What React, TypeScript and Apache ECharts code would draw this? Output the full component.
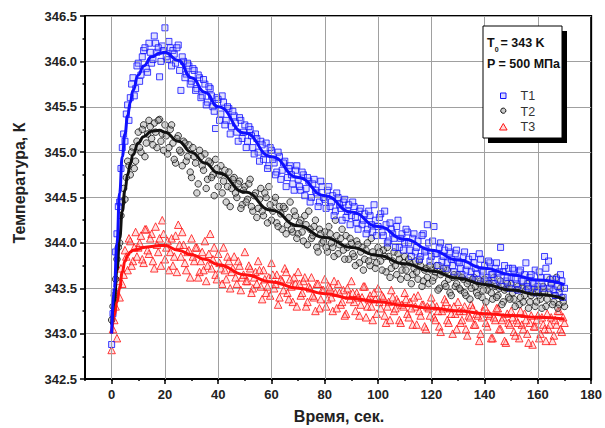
import React, { useEffect, useRef } from "react";
import * as echarts from "echarts";

// sampling step of the measured series, seconds (second array of each series is offset by half a step)
const timeStep = 1;

const T1 = [
  342.88, 343.45, 344.1, 344.45, 345.05, 345.12, 345.52, 345.6, 345.82, 345.7,
  345.98, 345.85, 346.12, 345.92, 346.2, 345.98, 346.28, 346.1, 345.83, 346.17,
  346.37, 346.02, 346.15, 346.12, 345.98, 346.18, 345.68, 346.0, 345.86, 345.95,
  345.78, 345.9, 345.7, 345.82, 345.62, 345.75, 345.55, 345.7, 345.5, 345.26,
  345.58, 345.42, 345.55, 345.35, 345.48, 345.28, 345.4, 345.22, 345.38, 345.15,
  345.3, 345.12, 345.25, 345.05, 345.2, 345.0, 345.12, 344.92, 345.1, 344.85,
  345.02, 344.88, 344.78, 344.95, 344.8, 344.9, 344.72, 344.85, 344.65, 344.8,
  344.7, 344.58, 344.75, 344.6, 344.68, 344.5, 344.7, 344.55, 344.45, 344.62,
  344.48, 344.58, 344.4, 344.52, 344.35, 344.5, 344.38, 344.45, 344.28, 344.42,
  344.3, 344.4, 344.22, 344.35, 344.2, 344.32, 344.15, 344.3, 344.12, 344.25,
  344.18, 344.32, 344.08, 344.2, 344.02, 344.15, 344.05, 344.18, 343.95, 344.1,
  344.0, 344.12, 343.92, 344.05, 343.9, 344.02, 343.85, 344.1, 343.92, 344.0,
  343.85, 344.18, 343.88, 343.95, 343.8, 343.92, 343.78, 343.9, 343.75, 343.88,
  343.8, 343.72, 343.85, 343.7, 343.82, 343.68, 343.78, 343.66, 343.88, 343.7,
  343.75, 343.62, 343.78, 343.65, 343.72, 343.6, 343.95, 343.68, 343.58, 343.72,
  343.62, 343.7, 343.55, 343.68, 343.58, 343.65, 343.52, 343.62, 343.55, 343.7,
  343.52, 343.62, 343.5, 343.72, 343.8, 343.55, 343.48, 343.6, 343.45, 343.58,
  343.5,
];
const T1half = [
  343.22, 343.9, 344.4, 344.82, 345.2, 345.42, 345.35, 345.75, 345.62, 345.95,
  345.78, 346.05, 346.15, 345.88, 346.1, 346.02, 346.2, 346.15, 346.0, 346.12,
  346.05, 346.22, 345.95, 346.08, 346.15, 345.9, 346.05, 345.82, 345.98, 345.75,
  345.92, 345.68, 345.85, 345.6, 345.8, 345.52, 345.72, 345.62, 345.45, 345.6,
  345.35, 345.62, 345.3, 345.5, 345.2, 345.45, 345.32, 345.12, 345.35, 345.22,
  345.05, 345.28, 345.18, 344.98, 345.15, 344.9, 345.08, 344.98, 344.82, 345.05,
  344.92, 344.75, 345.0, 344.7, 344.88, 344.62, 344.82, 344.75, 344.58, 344.85,
  344.62, 344.78, 344.52, 344.72, 344.45, 344.65, 344.58, 344.4, 344.68, 344.5,
  344.38, 344.62, 344.45, 344.3, 344.55, 344.42, 344.25, 344.48, 344.35, 344.2,
  344.45, 344.28, 344.15, 344.38, 344.25, 344.1, 344.35, 344.2, 344.42, 344.08,
  344.28, 344.12, 344.35, 344.0, 344.22, 344.1, 343.95, 344.25, 344.05, 343.92,
  344.15, 344.0, 343.85, 344.1, 343.95, 343.82, 344.08, 343.9, 344.2, 343.8,
  344.02, 343.88, 343.75, 344.0, 343.85, 343.72, 343.95, 343.82, 343.68, 343.92,
  343.78, 343.65, 343.9, 343.75, 343.62, 343.85, 343.72, 343.6, 343.82, 343.68,
  343.58, 343.8, 343.65, 343.55, 343.78, 343.68, 343.52, 343.75, 343.62, 343.5,
  343.72, 343.6, 343.48, 343.7, 343.58, 343.78, 343.5, 343.65, 343.55, 343.45,
  343.68, 343.55, 343.85, 343.62, 343.5, 343.6, 343.42, 343.52, 343.65, 343.4,
];

const T2 = [
  343.15, 343.42, 343.82, 344.0, 344.45, 344.48, 344.9, 344.75, 345.05, 344.9,
  345.22, 345.0, 345.3, 345.1, 345.35, 345.15, 345.32, 345.05, 345.36, 345.2,
  345.3, 344.98, 345.25, 345.1, 344.88, 345.18, 345.0, 345.12, 344.9, 345.08,
  344.72, 344.95, 344.55, 345.02, 344.85, 344.98, 344.7, 344.88, 344.75, 344.92,
  344.62, 344.85, 344.68, 344.45, 344.78, 344.6, 344.72, 344.5, 344.68, 344.42,
  344.62, 344.48, 344.7, 344.35, 344.55, 344.38, 344.6, 344.3, 344.5, 344.62,
  344.25, 344.45, 344.22, 344.4, 344.15, 344.38, 344.2, 344.45, 344.12, 344.3,
  344.1, 344.25, 344.02, 344.2, 344.35, 344.05, 344.18, 343.95, 344.15, 344.0,
  344.12, 343.9, 344.1, 343.95, 344.25, 343.88, 344.05, 343.92, 344.08, 343.82,
  344.0, 343.85, 344.02, 343.78, 343.95, 343.82, 344.0, 343.75, 343.9, 343.72,
  343.95, 343.8, 343.92, 343.68, 343.85, 343.72, 343.9, 343.65, 343.82, 343.7,
  343.85, 343.62, 343.78, 343.65, 343.8, 343.6, 343.75, 343.58, 343.72, 343.55,
  343.7, 343.62, 343.75, 343.5, 343.68, 343.55, 343.7, 343.45, 343.62, 343.52,
  343.65, 343.48, 343.6, 343.42, 343.58, 343.5, 343.62, 343.45, 343.55, 343.4,
  343.6, 343.48, 343.55, 343.38, 343.52, 343.42, 343.58, 343.35, 343.5, 343.4,
  343.55, 343.38, 343.48, 343.32, 343.5, 343.42, 343.55, 343.35, 343.45, 343.3,
  343.48, 343.38, 343.52, 343.3, 343.45, 343.55, 343.35, 343.62, 343.32, 343.4,
  343.3,
];
const T2half = [
  343.3, 343.6, 343.95, 344.3, 344.6, 344.72, 344.85, 345.0, 344.82, 345.12,
  345.05, 345.25, 344.95, 345.2, 345.28, 345.08, 345.22, 345.35, 345.12, 345.02,
  345.18, 345.05, 345.3, 344.92, 345.15, 345.02, 344.85, 345.1, 344.95, 344.78,
  345.05, 344.88, 344.65, 344.95, 344.8, 344.6, 344.9, 344.72, 344.52, 344.82,
  344.75, 344.55, 344.8, 344.62, 344.4, 344.7, 344.55, 344.65, 344.38, 344.58,
  344.45, 344.65, 344.4, 344.52, 344.28, 344.48, 344.35, 344.55, 344.22, 344.42,
  344.35, 344.5, 344.18, 344.32, 344.4, 344.1, 344.28, 344.15, 344.35, 344.05,
  344.22, 344.12, 344.3, 343.98, 344.15, 344.08, 344.25, 343.9, 344.1, 344.02,
  343.95, 344.18, 344.0, 343.85, 344.08, 343.98, 344.15, 343.82, 343.95, 344.05,
  343.88, 343.75, 343.98, 343.9, 343.7, 343.92, 343.8, 344.05, 343.85, 343.78,
  343.9, 343.7, 343.85, 343.95, 343.62, 343.8, 343.75, 343.88, 343.6, 343.78,
  343.7, 343.82, 343.55, 343.72, 343.68, 343.8, 343.52, 343.7, 343.62, 343.75,
  343.58, 343.68, 343.48, 343.65, 343.72, 343.52, 343.6, 343.42, 343.65, 343.55,
  343.5, 343.62, 343.45, 343.55, 343.38, 343.6, 343.52, 343.42, 343.58, 343.48,
  343.35, 343.55, 343.45, 343.62, 343.4, 343.5, 343.32, 343.48, 343.55, 343.38,
  343.45, 343.3, 343.52, 343.4, 343.35, 343.48, 343.28, 343.42, 343.5, 343.35,
  343.42, 343.28, 343.45, 343.38, 343.6, 343.32, 343.42, 343.28, 343.5, 343.35,
];

const T3 = [
  342.82, 343.15, 342.95, 343.4, 343.55, 343.92, 343.7, 344.02, 343.8, 344.12,
  343.95, 344.08, 343.78, 344.15, 343.88, 344.1, 343.72, 343.98, 344.05, 344.25,
  343.82, 344.02, 343.9, 343.75, 344.08, 344.2, 343.85, 343.98, 343.7, 343.92,
  344.05, 343.8, 343.95, 343.68, 343.9, 344.02, 343.75, 344.1, 343.82, 343.65,
  343.88, 343.72, 343.95, 343.6, 343.8, 343.68, 343.85, 343.55, 343.75, 343.62,
  343.9, 343.58, 343.72, 343.5, 343.68, 343.8, 343.52, 343.7, 343.45, 343.62,
  343.78, 343.5, 343.65, 343.4, 343.58, 343.72, 343.45, 343.6, 343.35, 343.55,
  343.68, 343.42, 343.58, 343.3, 343.52, 343.62, 343.4, 343.55, 343.28, 343.48,
  343.6, 343.38, 343.5, 343.25, 343.45, 343.55, 343.32, 343.48, 343.22, 343.42,
  343.58, 343.35, 343.45, 343.2, 343.4, 343.52, 343.3, 343.42, 343.15, 343.38,
  343.5, 343.28, 343.4, 343.12, 343.35, 343.48, 343.25, 343.38, 343.15, 343.32,
  343.45, 343.22, 343.35, 343.1, 343.3, 343.42, 343.2, 343.32, 343.05, 343.28,
  343.4, 343.18, 343.3, 343.08, 343.25, 343.38, 343.15, 343.28, 343.0, 343.22,
  343.35, 343.12, 343.25, 343.05, 343.2, 343.32, 343.1, 343.22, 342.92, 343.18,
  343.3, 343.08, 343.2, 342.95, 343.15, 343.28, 343.05, 343.18, 342.9, 343.12,
  343.25, 343.02, 343.15, 342.95, 343.1, 343.22, 343.0, 343.12, 342.88, 343.08,
  343.2, 343.0, 343.1, 342.92, 343.05, 343.18, 342.98, 343.1, 343.25, 343.02,
  343.12,
];
const T3half = [
  343.05, 343.3, 343.58, 343.72, 343.65, 343.85, 344.05, 343.75, 343.95, 343.85,
  344.0, 343.82, 344.15, 343.92, 344.05, 343.8, 344.18, 343.9, 343.75, 344.1,
  343.95, 343.7, 344.05, 343.85, 343.68, 343.98, 344.12, 343.78, 343.9, 343.62,
  343.85, 343.95, 343.62, 343.8, 343.7, 343.58, 343.88, 343.72, 343.95, 343.6,
  343.78, 343.55, 343.7, 343.85, 343.5, 343.72, 343.62, 343.8, 343.48, 343.65,
  343.58, 343.75, 343.45, 343.62, 343.55, 343.7, 343.38, 343.6, 343.52, 343.42,
  343.65, 343.55, 343.32, 343.6, 343.48, 343.68, 343.38, 343.52, 343.62, 343.3,
  343.55, 343.45, 343.62, 343.35, 343.5, 343.42, 343.25, 343.55, 343.38, 343.48,
  343.3, 343.52, 343.4, 343.58, 343.28, 343.45, 343.35, 343.2, 343.5, 343.38,
  343.45, 343.25, 343.4, 343.32, 343.52, 343.18, 343.38, 343.3, 343.45, 343.22,
  343.35, 343.42, 343.2, 343.3, 343.15, 343.4, 343.28, 343.35, 343.12, 343.3,
  343.38, 343.18, 343.28, 343.4, 343.1, 343.25, 343.32, 343.08, 343.3, 343.2,
  343.32, 343.15, 343.25, 343.02, 343.28, 343.35, 343.12, 343.22, 343.3, 343.05,
  343.25, 343.15, 343.3, 342.98, 343.18, 343.28, 343.1, 343.2, 343.0, 343.25,
  343.12, 343.22, 342.95, 343.18, 343.28, 343.05, 343.15, 342.92, 343.22, 343.1,
  343.18, 342.98, 343.12, 343.25, 343.05, 343.15, 342.9, 343.2, 343.08, 343.15,
  342.95, 343.18, 343.05, 343.22, 343.1, 342.92, 343.15, 343.25, 343.05, 343.18,
];

// fitted curves
const fitTime = [0, 1, 2, 3, 4, 5, 6, 7, 8, 10, 12, 15, 18, 20, 25, 30, 35, 40, 50, 60, 70, 80, 90, 100, 110, 120, 130, 140, 150, 160, 170];
const fitT1 = [343.0, 343.5, 344.0, 344.55, 344.95, 345.2, 345.4, 345.55, 345.68, 345.85, 345.95, 346.05, 346.09, 346.1, 346.01, 345.82, 345.66, 345.5, 345.21, 344.95, 344.72, 344.52, 344.34, 344.18, 344.04, 343.92, 343.81, 343.72, 343.65, 343.59, 343.54];
const fitT2 = [343.1, 343.35, 343.7, 344.05, 344.35, 344.58, 344.75, 344.87, 344.97, 345.1, 345.17, 345.23, 345.24, 345.22, 345.12, 345.0, 344.88, 344.77, 344.56, 344.36, 344.19, 344.06, 343.95, 343.86, 343.77, 343.69, 343.61, 343.54, 343.48, 343.43, 343.38];
const fitT3 = [343.0, 343.2, 343.35, 343.5, 343.68, 343.8, 343.86, 343.9, 343.92, 343.93, 343.95, 343.96, 343.97, 343.97, 343.92, 343.87, 343.82, 343.76, 343.65, 343.57, 343.5, 343.44, 343.39, 343.35, 343.31, 343.28, 343.25, 343.22, 343.2, 343.18, 343.16];

const xLabelValues = [0, 20, 40, 60, 80, 100, 120, 140, 160, 180];
const xGridValues = [0, 20, 40, 60, 80, 100, 120, 140, 160];
const seriesNames = ["T1", "T2", "T3"];

const FONT = "'Liberation Sans', Arial, sans-serif";

export default function App() {
  const ref = useRef<HTMLDivElement>(null);
  useEffect(() => {
    const chart = echarts.init(ref.current!, null, { renderer: "svg" });
    const pts = (whole: number[], half: number[]) =>
      whole
        .map((v, i) => [i * timeStep, v])
        .concat(half.map((v, i) => [i * timeStep + timeStep / 2, v]));
    const fit = (arr: number[]) => arr.map((v, i) => [fitTime[i], v]);

    const blue = "#1010ff";
    const black = "#111111";
    const red = "#ff1010";
    const blueFill = "rgba(150,150,255,0.35)";
    const grayFill = "rgba(150,150,150,0.5)";
    const redFill = "rgba(255,170,170,0.45)";

    chart.setOption({
      animation: false,
      grid: {
        left: 85,
        right: 11,
        top: 16,
        bottom: 49,
        show: true,
        borderColor: "#000",
        borderWidth: 2,
        backgroundColor: "transparent",
      },
      xAxis: [
        {
          type: "value",
          min: -10,
          max: 180,
          interval: 10,
          axisLine: { onZero: false, lineStyle: { color: "#000", width: 2 } },
          axisTick: {
            show: true,
            customValues: xLabelValues,
            length: 5,
            lineStyle: { color: "#000", width: 1.5 },
          },
          axisLabel: {
            customValues: xLabelValues,
            formatter: (v: number) => (v >= 0 && v % 20 === 0 ? String(v) : ""),
            fontWeight: "bold",
            fontSize: 13,
            fontFamily: FONT,
            color: "#222",
            margin: 9,
          },
          splitLine: { show: false },
        },
        {
          type: "value",
          min: -10,
          max: 180,
          interval: 10,
          position: "bottom",
          axisLine: { show: false, onZero: false },
          axisTick: { show: true, length: 2, lineStyle: { color: "#000", width: 1.5 } },
          axisLabel: { show: false },
          splitLine: { show: false },
        },
      ],
      yAxis: {
        type: "value",
        min: 342.5,
        max: 346.5,
        interval: 0.5,
        axisLine: { show: true, onZero: false, lineStyle: { color: "#000", width: 2 } },
        axisTick: { show: true, length: 5, lineStyle: { color: "#000", width: 1.5 } },
        minorTick: { show: true, splitNumber: 2, length: 2.5, lineStyle: { color: "#000", width: 1.5 } },
        axisLabel: {
          formatter: (v: number) => v.toFixed(1),
          fontWeight: "bold",
          fontSize: 13,
          fontFamily: FONT,
          color: "#222",
          margin: 8,
        },
        splitLine: { show: true, lineStyle: { color: "#a0a0a0", width: 1 } },
      },
      graphic: [
        {
          type: "text",
          x: 339,
          y: 416,
          style: {
            text: "Время, сек.",
            fontSize: 16,
            fontWeight: "bold",
            fontFamily: FONT,
            fill: "#222",
            align: "center",
            verticalAlign: "middle",
          },
        },
        {
          type: "text",
          x: 19,
          y: 183,
          rotation: Math.PI / 2,
          style: {
            text: "Температура, К",
            fontSize: 16,
            fontWeight: "bold",
            fontFamily: FONT,
            fill: "#222",
            align: "center",
            verticalAlign: "middle",
          },
        },
        {
          type: "rect",
          shape: { x: 488, y: 31, width: 79, height: 112 },
          style: { fill: "#000" },
          z: 100,
        },
        {
          type: "rect",
          shape: { x: 483, y: 26, width: 79, height: 112 },
          style: { fill: "#fff", stroke: "#000", lineWidth: 1 },
          z: 101,
        },
        {
          type: "text",
          x: 487,
          y: 43,
          z: 102,
          style: { text: "T", fontSize: 12.5, fontWeight: "bold", fontFamily: FONT, fill: "#111", align: "left", verticalAlign: "middle" },
        },
        {
          type: "text",
          x: 494.8,
          y: 49.5,
          z: 102,
          style: { text: "0", fontSize: 7, fontWeight: "bold", fontFamily: FONT, fill: "#111", align: "left", verticalAlign: "middle" },
        },
        {
          type: "text",
          x: 500.5,
          y: 43,
          z: 102,
          style: { text: "= 343 K", fontSize: 12.5, fontWeight: "bold", fontFamily: FONT, fill: "#111", align: "left", verticalAlign: "middle" },
        },
        {
          type: "text",
          x: 487,
          y: 63.5,
          z: 102,
          style: { text: "P = 500 МПа", fontSize: 12.5, fontWeight: "bold", fontFamily: FONT, fill: "#111", align: "left", verticalAlign: "middle" },
        },
        {
          type: "rect",
          shape: { x: 500.5, y: 93, width: 5.5, height: 5.5 },
          z: 102,
          style: { fill: blueFill, stroke: blue, lineWidth: 1 },
        },
        {
          type: "circle",
          shape: { cx: 503.3, cy: 110.7, r: 2.6 },
          z: 102,
          style: { fill: grayFill, stroke: black, lineWidth: 1 },
        },
        {
          type: "polygon",
          shape: { points: [[503.3, 123.5], [499.5, 130], [507.1, 130]] },
          z: 102,
          style: { fill: redFill, stroke: red, lineWidth: 1 },
        },
        ...seriesNames.map((n, i) => ({
          type: "text",
          x: 520.5,
          y: 96 + i * 15.6,
          z: 102,
          style: { text: n, fontSize: 12.5, fontFamily: FONT, fill: "#333", align: "left", verticalAlign: "middle" },
        })),
      ],
      series: [
        {
          name: "grid-x",
          type: "line",
          data: [],
          z: 1,
          silent: true,
          markLine: {
            silent: true,
            symbol: ["none", "none"],
            label: { show: false },
            lineStyle: { color: "#a0a0a0", width: 1, type: "solid" },
            emphasis: { disabled: true },
            data: xGridValues.map((v) => ({ xAxis: v })),
          },
        },
        {
          name: "T3",
          type: "scatter",
          data: pts(T3, T3half),
          symbol: "triangle",
          symbolSize: 7.5,
          z: 3,
          itemStyle: { color: redFill, borderColor: red, borderWidth: 1 },
        },
        {
          name: "T2",
          type: "scatter",
          data: pts(T2, T2half),
          symbol: "circle",
          symbolSize: 6.5,
          z: 3,
          itemStyle: { color: grayFill, borderColor: black, borderWidth: 1 },
        },
        {
          name: "T1",
          type: "scatter",
          data: pts(T1, T1half),
          symbol: "rect",
          symbolSize: 6,
          z: 3,
          itemStyle: { color: blueFill, borderColor: blue, borderWidth: 1 },
        },
        {
          name: "fit3",
          type: "line",
          data: fit(fitT3),
          showSymbol: false,
          smooth: true,
          smoothMonotone: "x",
          z: 10,
          lineStyle: { color: red, width: 3 },
        },
        {
          name: "fit2",
          type: "line",
          data: fit(fitT2),
          showSymbol: false,
          smooth: true,
          smoothMonotone: "x",
          z: 10,
          lineStyle: { color: black, width: 3 },
        },
        {
          name: "fit1",
          type: "line",
          data: fit(fitT1),
          showSymbol: false,
          smooth: true,
          smoothMonotone: "x",
          z: 10,
          lineStyle: { color: blue, width: 3 },
        },
      ],
    });
    return () => chart.dispose();
  }, []);
  return (
    <div
      ref={ref}
      style={{ position: "fixed", left: 0, top: 0, width: 605, height: 428, background: "#fff" }}
    />
  );
}
